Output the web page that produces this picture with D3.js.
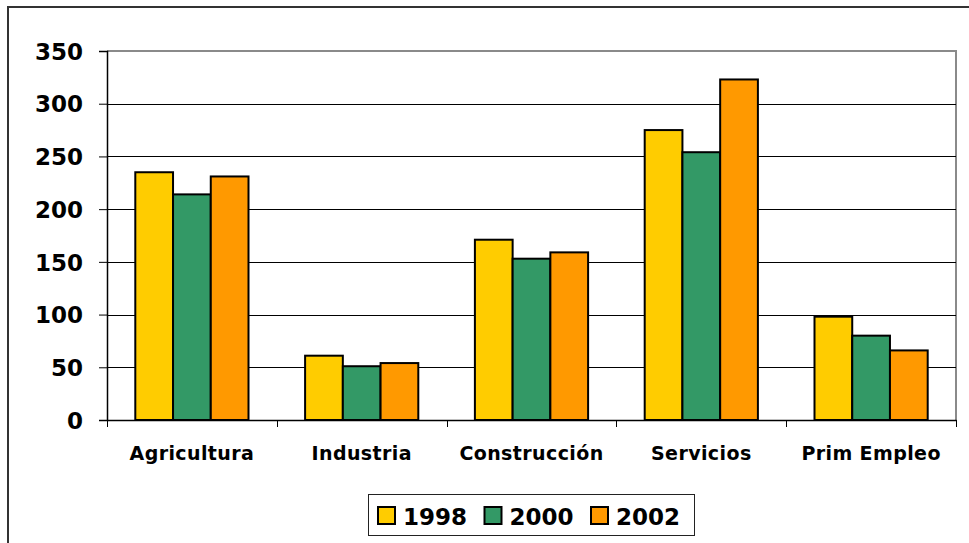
<!DOCTYPE html>
<html>
<head>
<meta charset="utf-8">
<script src="https://cdn.jsdelivr.net/npm/d3@7"></script>
<style>
  html, body { margin: 0; padding: 0; background: #fff; }
  svg { display: block; }
  text { font-family: "DejaVu Sans", Verdana, sans-serif; font-weight: bold; fill: #000; }
</style>
</head>
<body>
<svg id="chart" width="969" height="543"></svg>
<script>
// Sectors and yearly values
const categories = ["Agricultura", "Industria", "Construcción", "Servicios", "Prim Empleo"];
const years = ["1998", "2000", "2002"];
const values1998 = [235, 61, 171, 275, 98];
const values2000 = [214, 51, 153, 254, 80];
const values2002 = [231, 54, 159, 323, 66];
const yTicks = [0, 50, 100, 150, 200, 250, 300, 350];
const colors = ["#FFCC00", "#339966", "#FF9900"];

const seriesValues = [values1998, values2000, values2002];

const svg = d3.select("#chart");
const plotLeft = 107, plotRight = 956, plotTop = 51, plotBottom = 420;

// Outer chart frame
svg.append("rect")
  .attr("x", 8).attr("y", 7)
  .attr("width", 990).attr("height", 600)
  .attr("fill", "none").attr("stroke", "#333").attr("stroke-width", 2);

const y = d3.scaleLinear().domain([0, 350]).range([plotBottom, plotTop]);
const x0 = d3.scaleBand().domain(categories).range([plotLeft, plotRight]).padding(0);
const x1 = d3.scaleBand().domain(years).range([0, x0.bandwidth()])
  .paddingInner(0).paddingOuter(0.75);

// Plot area border (gray top and right)
svg.append("path")
  .attr("d", `M${plotLeft},${plotTop}H${plotRight}V${plotBottom}`)
  .attr("fill", "none").attr("stroke", "#8a8a8a").attr("stroke-width", 2);

// Horizontal gridlines
svg.append("g").selectAll("line")
  .data(yTicks.filter(t => t > 0 && t < 350))
  .join("line")
  .attr("x1", plotLeft).attr("x2", plotRight)
  .attr("y1", d => Math.round(y(d)) + 0.5).attr("y2", d => Math.round(y(d)) + 0.5)
  .attr("stroke", "#000").attr("stroke-width", 1);

// Bars
const groups = svg.append("g").selectAll("g")
  .data(categories)
  .join("g")
  .attr("transform", d => `translate(${x0(d)},0)`);

groups.selectAll("rect")
  .data((c, i) => years.map((yr, s) => ({ yr, s, v: seriesValues[s][i] })))
  .join("rect")
  .attr("x", d => x1(d.yr))
  .attr("y", d => y(d.v))
  .attr("width", x1.bandwidth())
  .attr("height", d => y(0) - y(d.v))
  .attr("fill", d => colors[d.s])
  .attr("stroke", "#000").attr("stroke-width", 2);

// Y axis
const yAxis = svg.append("g")
  .attr("transform", `translate(${plotLeft},0)`)
  .call(d3.axisLeft(y).tickValues(yTicks).tickSize(8).tickPadding(16));
yAxis.select(".domain").attr("stroke", "#000").attr("stroke-width", 1.5);
yAxis.selectAll(".tick line").attr("stroke", "#000");
yAxis.selectAll("text")
  .style("font-size", "23px")
  .style("font-family", "'DejaVu Sans', sans-serif")
  .style("font-weight", "bold")
  .attr("dy", "0.36em");

// X axis
const xAxis = svg.append("g")
  .attr("transform", `translate(0,${plotBottom})`)
  .call(d3.axisBottom(x0).tickSize(0).tickPadding(27));
xAxis.select(".domain").attr("stroke", "#000").attr("stroke-width", 1.5);
xAxis.selectAll("text")
  .style("font-size", "19px")
  .style("letter-spacing", "0.4px")
  .style("font-family", "'DejaVu Sans', sans-serif")
  .style("font-weight", "bold")
  .attr("dy", "0.71em");

// Category separator ticks
const sepX = categories.map(c => x0(c)).concat([x0(categories[categories.length - 1]) + x0.bandwidth()]);
svg.append("g").selectAll("line")
  .data(sepX)
  .join("line")
  .attr("x1", d => Math.round(d) + 0.5).attr("x2", d => Math.round(d) + 0.5)
  .attr("y1", plotBottom).attr("y2", plotBottom + 7)
  .attr("stroke", "#000");

// Legend
const legend = svg.append("g");
legend.append("rect")
  .attr("x", 368.5).attr("y", 494.5).attr("width", 326).attr("height", 41)
  .attr("fill", "#fff").attr("stroke", "#222").attr("stroke-width", 1);
const items = legend.selectAll("g.item")
  .data(years)
  .join("g")
  .attr("class", "item")
  .attr("transform", (d, i) => `translate(${378 + i * 106.5},0)`);
items.append("rect")
  .attr("x", 0).attr("y", 507).attr("width", 17).attr("height", 17)
  .attr("fill", (d, i) => colors[i]).attr("stroke", "#000").attr("stroke-width", 2);
items.append("text")
  .attr("x", 25).attr("y", 524.5)
  .style("font-size", "23px")
  .text(d => d);
</script>
</body>
</html>
